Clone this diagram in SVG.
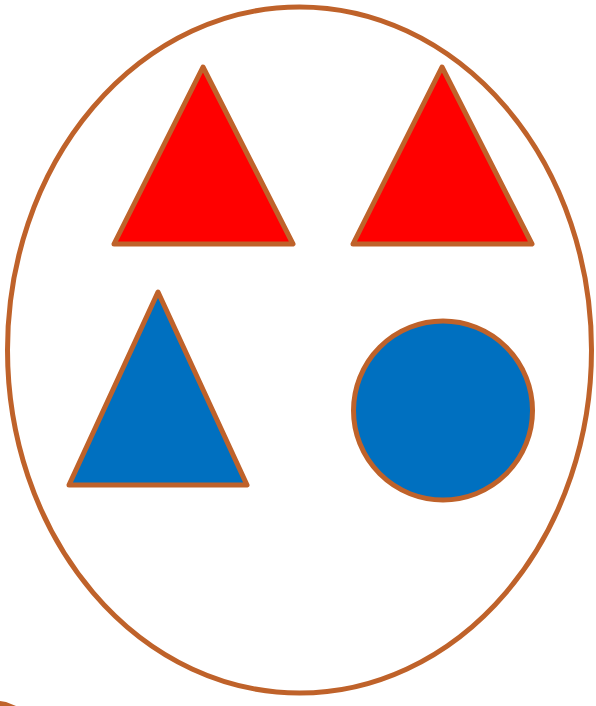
<svg xmlns="http://www.w3.org/2000/svg" width="596" height="706" viewBox="0 0 596 706">
<style>
.s{stroke:#BF622A;stroke-width:5;stroke-linejoin:round}
.red{fill:#FF0000}
.blue{fill:#0070C0}
</style>
<rect width="596" height="706" fill="#FFFFFF"/>
<g id="frame"><ellipse class="s" cx="299.5" cy="350" rx="292" ry="343" fill="none"/></g>
<g id="red-triangle-1"><polygon class="s red" points="203,67 293,244 114,244"/></g>
<g id="red-triangle-2"><polygon class="s red" points="442,67 532,244 353,244"/></g>
<g id="blue-triangle"><polygon class="s blue" points="158,292 247,485 69,485"/></g>
<g id="blue-circle"><circle class="s blue" cx="443" cy="410.5" r="89.5"/></g>
<g id="corner"><path d="M0,701 L6,702 L16,706 L0,706 Z" fill="#BF622A"/></g>
<g id="connectors"></g>
</svg>
